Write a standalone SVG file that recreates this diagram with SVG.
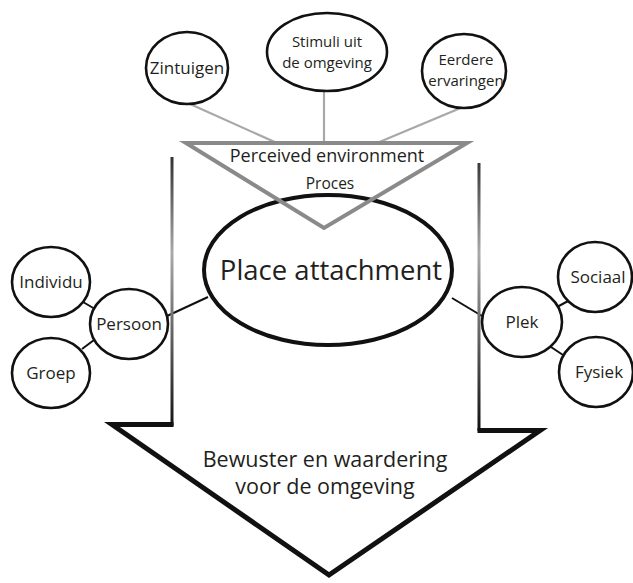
<svg xmlns="http://www.w3.org/2000/svg" width="633" height="583" viewBox="0 0 633 583">
<defs>
<style>
text{font-family:"Open Sans","Liberation Sans",sans-serif;fill:#231f20;text-anchor:middle}
.n{fill:#fff;stroke:#111;stroke-width:2.6}
.t{font-size:17px}
.t2{font-size:15px}
.c{stroke:#111;stroke-width:2;fill:none}
.g{stroke:#a8a8a8;stroke-width:2.2;fill:none}
</style>
<linearGradient id="vg" gradientUnits="userSpaceOnUse" x1="0" y1="158" x2="0" y2="430">
<stop offset="0" stop-color="#333"/>
<stop offset="0.35" stop-color="#aaa"/>
<stop offset="1" stop-color="#111"/>
</linearGradient>
</defs>
<rect width="633" height="583" fill="#fff"/>
<g id="connectors">
<line class="g" x1="190" y1="104" x2="277" y2="143"/>
<line class="g" x1="324" y1="91" x2="324" y2="143"/>
<line class="g" x1="463" y1="107" x2="377" y2="143"/>
<line class="c" x1="83" y1="302" x2="95" y2="309"/>
<line class="c" x1="82" y1="349" x2="94" y2="340"/>
<line class="c" x1="167" y1="316" x2="208" y2="297"/>
<line class="c" x1="452" y1="298" x2="482" y2="316"/>
<line class="c" x1="557" y1="307" x2="570" y2="300"/>
<line class="c" x1="551" y1="347" x2="563" y2="355"/>
</g>
<g id="arrow">
<line x1="172" y1="157" x2="172" y2="426" stroke="url(#vg)" stroke-width="3"/>
<line x1="479" y1="163" x2="479" y2="431" stroke="url(#vg)" stroke-width="3"/>
<polyline points="173.5,424.5 112,424.5 329,575 540,430.5 477.5,430.5" fill="none" stroke="#111" stroke-width="5" stroke-linejoin="miter"/>
<text x="325" y="467" style="font-size:21.5px">Bewuster en waardering</text>
<text x="325" y="494" style="font-size:21.5px">voor de omgeving</text>
</g>
<g id="place"><ellipse cx="328" cy="270" rx="124" ry="75" fill="#fff" stroke="#111" stroke-width="4"/><text x="331" y="280" style="font-size:27.5px">Place attachment</text></g>
<g id="perceived">
<polygon points="186,143 467,143 324,228" fill="none" stroke="#8a8a8a" stroke-width="4"/>
<text x="327" y="162" style="font-size:18px">Perceived environment</text>
<text x="330" y="189" style="font-size:15.5px">Proces</text>
</g>
<g id="zintuigen"><ellipse class="n" cx="187" cy="68" rx="41" ry="36"/><text class="t" x="187" y="74">Zintuigen</text></g>
<g id="stimuli"><ellipse class="n" cx="327" cy="52" rx="60" ry="39"/><text class="t2" x="327" y="47">Stimuli uit</text><text class="t2" x="327" y="67.5">de omgeving</text></g>
<g id="eerdere"><ellipse class="n" cx="464" cy="71" rx="42" ry="37"/><text class="t2" x="466" y="65">Eerdere</text><text class="t2" x="466" y="85.5">ervaringen</text></g>
<g id="individu"><ellipse class="n" cx="51" cy="282" rx="39" ry="35"/><text class="t" x="51" y="288">Individu</text></g>
<g id="persoon"><ellipse class="n" cx="129" cy="324" rx="39" ry="35"/><text class="t" x="129" y="330">Persoon</text></g>
<g id="groep"><ellipse class="n" cx="51" cy="373" rx="39" ry="35"/><text class="t" x="51" y="379">Groep</text></g>
<g id="plek"><ellipse class="n" cx="522" cy="322" rx="40" ry="35"/><text class="t" x="522" y="328">Plek</text></g>
<g id="sociaal"><ellipse class="n" cx="595" cy="277" rx="37" ry="35"/><text class="t" x="598" y="283">Sociaal</text></g>
<g id="fysiek"><ellipse class="n" cx="596" cy="372" rx="37" ry="35"/><text class="t" x="599" y="378">Fysiek</text></g>
</svg>
